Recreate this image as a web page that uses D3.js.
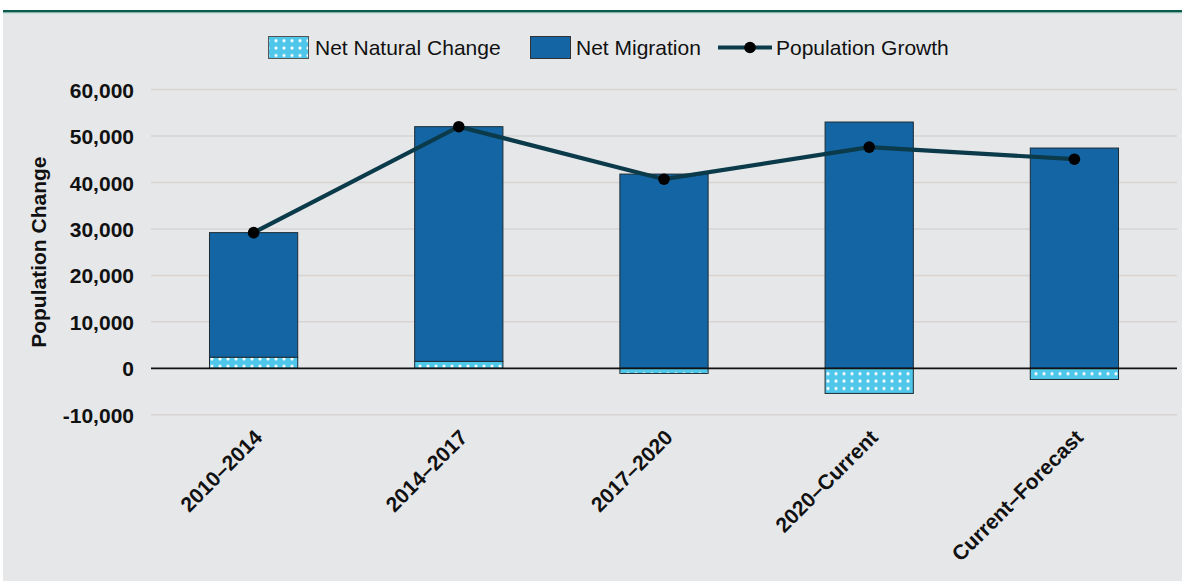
<!DOCTYPE html>
<html>
<head>
<meta charset="utf-8">
<script src="https://cdn.jsdelivr.net/npm/d3@7"></script>
<style>
  html, body { margin: 0; padding: 0; background: #ffffff; }
  svg { display: block; font-family: "Liberation Sans", Arial, sans-serif; }
</style>
</head>
<body>
<svg id="chart" width="1182" height="581"></svg>
<script>
// Population change components by period
const periods = ["2010–2014", "2014–2017", "2017–2020", "2020–Current", "Current–Forecast"];
const netNatural = [2400, 1500, -1100, -5400, -2400];
const netMigration = [26800, 50500, 41800, 53000, 47400];
const popGrowth = [29200, 52000, 40700, 47600, 45000];
const yTicks = [-10000, 0, 10000, 20000, 30000, 40000, 50000, 60000];

const W = 1182, H = 581;
const plot = { left: 151, right: 1177, top: 89.5, bottom: 414.8 };

const svg = d3.select("#chart");

// dotted fill for the natural-change segments
const defs = svg.append("defs");
const pat = defs.append("pattern")
  .attr("id", "dots")
  .attr("patternUnits", "userSpaceOnUse")
  .attr("width", 8).attr("height", 7.4);
pat.append("rect").attr("width", 8).attr("height", 7.4).attr("fill", "#4fc7ea");
pat.append("circle").attr("cx", 4).attr("cy", 3.7).attr("r", 1.6).attr("fill", "#ffffff");

// panel background and green rule
svg.append("rect").attr("x", 3).attr("y", 12).attr("width", W - 3).attr("height", H - 12).attr("fill", "#e6e7e9");
svg.append("rect").attr("x", 3).attr("y", 10).attr("width", W - 3).attr("height", 2.4).attr("fill", "#0b5b4c");
svg.append("rect").attr("x", 3).attr("y", 12.4).attr("width", W - 3).attr("height", 0.8).attr("fill", "#7fb8a8");

const x = d3.scaleBand().domain(periods).range([plot.left, plot.right]).paddingInner(0.57).paddingOuter(0.285);
const y = d3.scaleLinear().domain([-10000, 60000]).range([plot.bottom, plot.top]);

// gridlines
svg.append("g")
  .selectAll("line")
  .data(yTicks.filter(d => d !== 0))
  .join("line")
  .attr("x1", plot.left).attr("x2", plot.right)
  .attr("y1", d => y(d)).attr("y2", d => y(d))
  .attr("stroke", "#d7d4d1").attr("stroke-width", 1.5);

// y axis labels (plain hyphen for negatives)
const fmt = d3.format(",");
const yAxis = d3.axisLeft(y).tickValues(yTicks).tickSize(0).tickPadding(0)
  .tickFormat(d => fmt(d).replace("−", "-"));
const gy = svg.append("g").attr("transform", `translate(134,0)`).call(yAxis);
gy.select(".domain").remove();
gy.selectAll("text")
  .attr("font-family", "Liberation Sans, Arial, sans-serif")
  .attr("font-size", 21).attr("font-weight", "bold").attr("fill", "#111")
  .attr("dy", "0.36em");

// y axis title
svg.append("text")
  .attr("transform", `translate(46,${(y(60000) + y(-10000)) / 2 + 0}) rotate(-90)`)
  .attr("text-anchor", "middle")
  .attr("font-size", 21).attr("font-weight", "bold").attr("fill", "#111")
  .text("Population Change");

// bars: natural change stacked under migration when positive, below zero when negative
const rows = periods.map((p, i) => ({ p, nat: netNatural[i], mig: netMigration[i], grow: popGrowth[i] }));

const bars = svg.append("g");
bars.selectAll("rect.nat")
  .data(rows).join("rect")
  .attr("class", "nat")
  .attr("x", d => x(d.p)).attr("width", x.bandwidth())
  .attr("y", d => y(Math.max(0, d.nat)))
  .attr("height", d => Math.abs(y(d.nat) - y(0)))
  .attr("fill", "url(#dots)")
  .attr("stroke", "#1d2b33").attr("stroke-width", 1);

bars.selectAll("rect.mig")
  .data(rows).join("rect")
  .attr("class", "mig")
  .attr("x", d => x(d.p)).attr("width", x.bandwidth())
  .attr("y", d => y(Math.max(0, d.nat) + d.mig))
  .attr("height", d => y(Math.max(0, d.nat)) - y(Math.max(0, d.nat) + d.mig))
  .attr("fill", "#1366a3")
  .attr("stroke", "#1d2b33").attr("stroke-width", 1);

// zero line
svg.append("line")
  .attr("x1", plot.left).attr("x2", plot.right)
  .attr("y1", y(0)).attr("y2", y(0))
  .attr("stroke", "#111").attr("stroke-width", 1.6);

// growth line
const cx = d => x(d.p) + x.bandwidth() / 2;
svg.append("path")
  .datum(rows)
  .attr("d", d3.line().x(cx).y(d => y(d.grow)))
  .attr("fill", "none").attr("stroke", "#0b3a4a").attr("stroke-width", 4.2);
svg.append("g").selectAll("circle")
  .data(rows).join("circle")
  .attr("cx", cx).attr("cy", d => y(d.grow)).attr("r", 5.8)
  .attr("fill", "#000");

// x axis labels
const xAxis = d3.axisBottom(x).tickSize(0).tickPadding(0);
const gx = svg.append("g").attr("transform", `translate(0,${y(-10000)})`).call(xAxis);
gx.select(".domain").remove();
gx.selectAll("text")
  .attr("font-family", "Liberation Sans, Arial, sans-serif")
  .attr("font-size", 21).attr("font-weight", "bold").attr("fill", "#111")
  .attr("text-anchor", "end")
  .attr("dy", null)
  .attr("transform", "translate(10,24) rotate(-45)");

// legend
const legend = svg.append("g").attr("font-size", 21).attr("fill", "#111");
legend.append("rect").attr("x", 268.5).attr("y", 36.5).attr("width", 40).attr("height", 22)
  .attr("fill", "url(#dots)").attr("stroke", "#555").attr("stroke-width", 1);
legend.append("text").attr("x", 315).attr("y", 55).text("Net Natural Change");
legend.append("rect").attr("x", 530.5).attr("y", 36.5).attr("width", 40).attr("height", 22)
  .attr("fill", "#1366a3").attr("stroke", "#333").attr("stroke-width", 1);
legend.append("text").attr("x", 576).attr("y", 55).text("Net Migration");
legend.append("line").attr("x1", 718).attr("x2", 772).attr("y1", 47.5).attr("y2", 47.5)
  .attr("stroke", "#0b3a4a").attr("stroke-width", 4.2);
legend.append("circle").attr("cx", 750).attr("cy", 47.5).attr("r", 5.8).attr("fill", "#000");
legend.append("text").attr("x", 776).attr("y", 55).text("Population Growth");
</script>
</body>
</html>
